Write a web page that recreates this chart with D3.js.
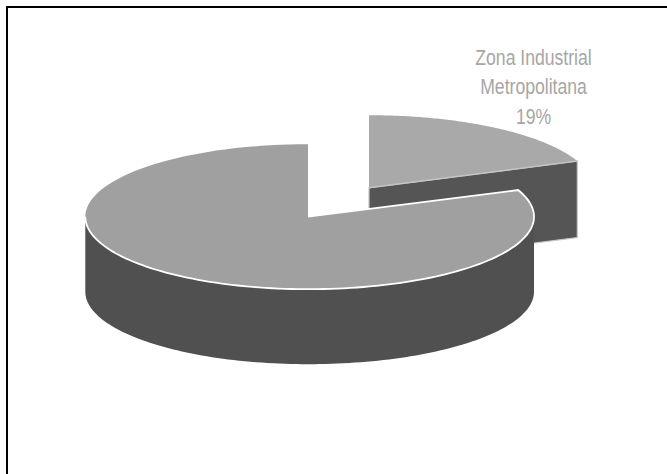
<!DOCTYPE html>
<html><head><meta charset="utf-8"><style>html,body{margin:0;background:#fff}svg{display:block}</style>
<script src="https://cdn.jsdelivr.net/npm/d3@7"></script></head><body><svg id="c" width="667" height="474"></svg>
<script>
const categories = ["Zona Industrial Metropolitana", "Resto"];
const shares = [19, 81];
const labelLines = ["Zona Industrial", "Metropolitana", "19%"];

const rxRight = 226, rxLeft = 222.7, rxSmall = 224, ry = 72.5, depth = 75, smallDepth = 76.5;
const cx = 308, cy = 216.7, ex = 61, ey = -29;
const svg = d3.select("#c");
svg.append("path").attr("d","M7,474V7H667").attr("fill","none").attr("stroke","#000").attr("stroke-width",2);
const arcs = d3.pie().sort(null)(shares);
const line = d3.line();
const pt = (a,ox,oy,dz,rR,rL) => [ox+(Math.sin(a)>0?rR:rL)*Math.sin(a), oy-ry*Math.cos(a)+dz];
const arcPts = (a0,a1,ox,oy,dz,rR,rL) => d3.range(0,121).map(i=>pt(a0+(a1-a0)*i/120,ox,oy,dz,rR,rL));
const [small,big] = arcs;
// exploded slice
const sx=cx+ex, sy=cy+ey;
const sEnd = pt(small.endAngle,sx,sy,0,rxSmall,rxSmall);
svg.append("path").attr("d",line([[sx,sy],sEnd,[sEnd[0],sEnd[1]+smallDepth],[sx,sy+smallDepth]])+"Z").attr("fill","#555555").attr("stroke","#c4c4c4").attr("stroke-width",1.2);
svg.append("path").attr("d",line([[sx,sy],...arcPts(small.startAngle,small.endAngle,sx,sy,0,rxSmall,rxSmall)])+"Z").attr("fill","#a9a9a9");
svg.append("path").attr("d",line([[sx,sy],sEnd])).attr("fill","none").attr("stroke","#c4c4c4").attr("stroke-width",1.5);
// main slice wall
const wall = [...arcPts(Math.PI/2,Math.PI*1.5,cx,cy,0,rxRight,rxLeft),...arcPts(Math.PI*1.5,Math.PI/2,cx,cy,depth,rxRight,rxLeft)];
svg.append("path").attr("d",line(wall)+"Z").attr("fill","#505050");
// main top
svg.append("path").attr("d",line([[cx,cy],...arcPts(big.startAngle,big.endAngle,cx,cy,0,rxRight,rxLeft)])+"Z").attr("fill","#a0a0a0");
svg.append("path").attr("d",line([[cx,cy],...arcPts(big.startAngle,Math.PI*1.5,cx,cy,0,rxRight,rxLeft)])).attr("fill","none").attr("stroke","#fff").attr("stroke-width",1.8);
svg.append("g").attr("transform","translate(533.5,0) scale(0.8,1)")
 .append("text").attr("text-anchor","middle").attr("font-family","'Liberation Sans',Arial,sans-serif").attr("font-size",22).attr("fill","#a6a6a6")
 .selectAll("tspan").data(labelLines).join("tspan").attr("x",0).attr("y",(d,i)=>65+i*29.5).text(d=>d);
</script></body></html>
